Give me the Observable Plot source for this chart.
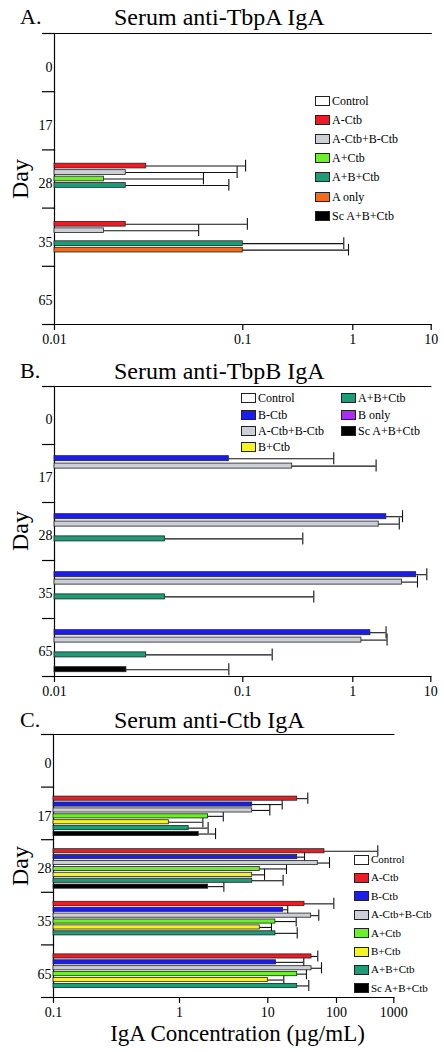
<!DOCTYPE html>
<html><head><meta charset="utf-8">
<script src="https://cdn.jsdelivr.net/npm/d3@7"></script>
<script src="https://cdn.jsdelivr.net/npm/@observablehq/plot@0.6"></script>
<style>
html,body{margin:0;padding:0;background:#fff;overflow:hidden}
#root{position:relative;width:444px;height:1052px;font-family:'Liberation Serif','Times New Roman',serif;color:#000}
.abs{position:absolute;white-space:nowrap;line-height:1}
.sw{position:absolute;width:15px;height:10px;box-sizing:border-box;border:1px solid #222}
</style></head><body><div id="root"></div>
<script>
// ---------- data ----------
const days = ["0", "17", "28", "35", "65"];

const colorNames  = ["Control", "A-Ctb", "B-Ctb", "A-Ctb+B-Ctb", "A+Ctb", "B+Ctb", "A+B+Ctb", "A only", "B only", "Sc A+B+Ctb"];
const colorValues = ["#ffffff", "#ee1c25", "#1c1cf0", "#cccfd6", "#6cf028", "#f5f51e", "#1e9c78", "#f26b1d", "#a82ef0", "#000000"];

// Panel A: Serum anti-TbpA IgA (rows = series, columns = days)
const seriesA = ["Control", "A-Ctb", "A-Ctb+B-Ctb", "A+Ctb", "A+B+Ctb", "A only", "Sc A+B+Ctb"];
const meanA = [
  [null, null, null,   null,   null],
  [null, null, 0.0307, 0.0239, null],
  [null, null, 0.0239, 0.0183, null],
  [null, null, 0.0183, null,   null],
  [null, null, 0.0239, 0.1,    null],
  [null, null, null,   0.1,    null],
  [null, null, null,   null,   null]
];
const upperA = [
  [null, null, null,   null,   null],
  [null, null, 0.106,  0.110,  null],
  [null, null, 0.0933, 0.0583, null],
  [null, null, 0.0618, null,   null],
  [null, null, 0.0843, 0.828,  null],
  [null, null, null,   0.914,  null],
  [null, null, null,   null,   null]
];
const ticksA = [0.01, 0.1, 1, 10];

// Panel B: Serum anti-TbpB IgA
const seriesB = ["Control", "B-Ctb", "A-Ctb+B-Ctb", "B+Ctb", "A+B+Ctb", "B only", "Sc A+B+Ctb"];
const meanB = [
  [null, null,   null,   null,   null],
  [null, 0.0843, 2.69,   6.49,   1.68],
  [null, 0.281,  2.15,   4.27,   1.29],
  [null, null,   null,   null,   null],
  [null, null,   0.0386, 0.0386, 0.0307],
  [null, null,   null,   null,   null],
  [null, null,   null,   null,   0.0241]
];
const upperB = [
  [null, null,   null,   null,   null],
  [null, 0.671,  4.34,   8.89,   2.67],
  [null, 1.99,   3.94,   6.75,   2.75],
  [null, null,   null,   null,   null],
  [null, null,   0.351,  0.442,  0.185],
  [null, null,   null,   null,   null],
  [null, null,   null,   null,   0.0843]
];
const ticksB = [0.01, 0.1, 1, 10];

// Panel C: Serum anti-Ctb IgA
const seriesC = ["Control", "A-Ctb", "B-Ctb", "A-Ctb+B-Ctb", "A+Ctb", "B+Ctb", "A+B+Ctb", "Sc A+B+Ctb"];
const meanC = [
  [null, null,  null,  null,  null],
  [null, 26.8,  66.8,  34.2,  43.3],
  [null, 6.66,  26.8,  16.7,  13.2],
  [null, 6.66,  53.4,  42.8,  43.3],
  [null, 2.11,  8.12,  12.9,  26.8],
  [null, 0.823, 6.66,  8.12,  10],
  [null, 1.27,  6.66,  12.9,  26.8],
  [null, 1.65,  2.11,  null,  null]
];
const upperC = [
  [null, null,  null,  null,  null],
  [null, 38.2,  526,   91.4,  53.4],
  [null, 16.2,  34.2,  19.5,  33.4],
  [null, 10.7,  79.1,  55.2,  60.5],
  [null, 3.13,  18.7,  25.9,  36.5],
  [null, 1.84,  9.18,  11.3,  17.1],
  [null, 2.11,  16.7,  26.8,  39.5],
  [null, 2.56,  3.18,  null,  null]
];
const ticksC = [0.1, 1, 10, 100, 1000];

// ---------- layout ----------
const W = 444;
const serif = "'Liberation Serif', 'Times New Roman', serif";
const root = document.getElementById("root");

function rows(series, mean, upper) {
  const out = [];
  series.forEach((s, i) => days.forEach((d, j) => out.push({series: s, day: d, mean: mean[i][j], upper: upper[i][j]})));
  return out;
}

function addText(txt, left, top, size, extra) {
  const el = document.createElement("div");
  el.className = "abs";
  el.textContent = txt;
  el.style.left = left + "px";
  el.style.top = top + "px";
  el.style.fontSize = size + "px";
  if (extra) Object.assign(el.style, extra);
  root.appendChild(el);
  return el;
}

function panel(p) {
  const data = rows(p.series, p.mean, p.upper);
  const bandH = (p.height - p.marginTop - p.marginBottom) / days.length;
  const svg = Plot.plot({
    width: W,
    height: p.height,
    marginTop: p.marginTop,
    marginBottom: p.marginBottom,
    marginLeft: p.xRange[0],
    marginRight: W - p.xRange[p.xRange.length - 1],
    style: {fontFamily: serif, fontSize: "14px", background: "transparent", overflow: "visible", color: "#000"},
    x: {type: "log", domain: p.ticks, range: p.xRange},
    y: {domain: p.series, paddingInner: p.pi, paddingOuter: p.po, round: false, axis: null},
    fy: {domain: days, padding: 0, round: false},
    color: {domain: colorNames, range: colorValues},
    marks: [
      Plot.frame({anchor: "left", strokeWidth: 1.2}),
      Plot.frame({anchor: "top", facetAnchor: "top", strokeWidth: 1.2}),
      Plot.frame({anchor: "bottom", facetAnchor: "bottom", strokeWidth: 1.2}),
      Plot.axisFy({anchor: "left", tickSize: 12, tickFormat: () => "", label: null, dy: bandH / 2, strokeWidth: 1.2}),
      Plot.axisFy({anchor: "left", ticks: [days[0]], tickSize: 12, tickFormat: () => "", label: null, dy: -bandH / 2, strokeWidth: 1.2}),
      Plot.axisFy({anchor: "left", tickSize: 0, tickPadding: 2, label: null, dy: p.labelDy, fontSize: 14, fontFamily: serif}),
      Plot.axisX({ticks: p.ticks, tickFormat: d => String(d), tickSize: 6, tickPadding: 4, label: null, fontSize: 14, fontFamily: serif, strokeWidth: 1.2}),
      Plot.ruleY(data, {fy: "day", y: "series", x1: "mean", x2: "upper", stroke: "#111", strokeWidth: 1.1}),
      Plot.tickX(data, {fy: "day", y: "series", x: "upper", insetTop: -p.cap, insetBottom: -p.cap, stroke: "#111", strokeWidth: 1.1}),
      Plot.barX(data, {fy: "day", y: "series", x1: p.ticks[0], x2: "mean", fill: "series", stroke: "#222", strokeWidth: 0.8})
    ]
  });
  svg.style.position = "absolute";
  svg.style.left = "0px";
  svg.style.top = p.top + "px";
  root.appendChild(svg);

  // panel letter and title
  addText(p.letter, 20, p.titleY - 11, 22);
  addText(p.title, 114, p.titleY - 12, 24);
  // y-axis label "Day"
  const plotMid = p.top + p.marginTop + (p.height - p.marginTop - p.marginBottom) / 2;
  addText("Day", 19.5 - 30, plotMid - 12, 24, {width: "60px", height: "24px", textAlign: "center", transform: "rotate(-90deg)"});

  // legend
  p.legend.forEach((col) => {
    col.names.forEach((name, ri) => {
      const cy = col.top + ri * p.legendStep;
      const sw = document.createElement("div");
      sw.className = "sw";
      sw.style.left = col.left + "px";
      sw.style.top = (cy - 5) + "px";
      sw.style.background = colorValues[colorNames.indexOf(name)];
      root.appendChild(sw);
      addText(name, col.left + 17, cy - p.legendFont / 2, p.legendFont);
    });
  });
}

panel({
  letter: "A.", title: "Serum anti-TbpA IgA", titleY: 17,
  series: seriesA, mean: meanA, upper: upperA, ticks: ticksA,
  top: 0, height: 355, marginTop: 33, marginBottom: 31,
  xRange: [54, 242.3, 352.3, 430.7],
  pi: 0.27, po: 1.135, cap: 3.5, labelDy: 5,
  legendStep: 19.2, legendFont: 12,
  legend: [{left: 315, top: 100.5, names: seriesA}]
});

panel({
  letter: "B.", title: "Serum anti-TbpB IgA", titleY: 371,
  series: seriesB, mean: meanB, upper: upperB, ticks: ticksB,
  top: 355, height: 352, marginTop: 31, marginBottom: 31,
  xRange: [54, 242.3, 352.3, 430.3],
  pi: 0.32, po: 0.58, cap: 3.5, labelDy: 4,
  legendStep: 16.2, legendFont: 12,
  legend: [
    {left: 241, top: 398.3, names: seriesB.slice(0, 4)},
    {left: 341, top: 398.3, names: seriesB.slice(4)}
  ]
});

panel({
  letter: "C.", title: "Serum anti-Ctb IgA", titleY: 720,
  series: seriesC, mean: meanC, upper: upperC, ticks: ticksC,
  top: 707, height: 345, marginTop: 27, marginBottom: 55,
  xRange: [53, 179, 267.3, 336, 393.3],
  pi: 0.3, po: 0.61, cap: 3.5, labelDy: 3,
  legendStep: 18.4, legendFont: 11,
  legend: [{left: 354, top: 859.5, names: seriesC}]
});

// x-axis title (bottom)
addText("IgA Concentration (\u00B5g/mL)", 237.5 - 150, 1040 - 18.5, 23, {width: "300px", textAlign: "center"});
</script>
</body></html>
